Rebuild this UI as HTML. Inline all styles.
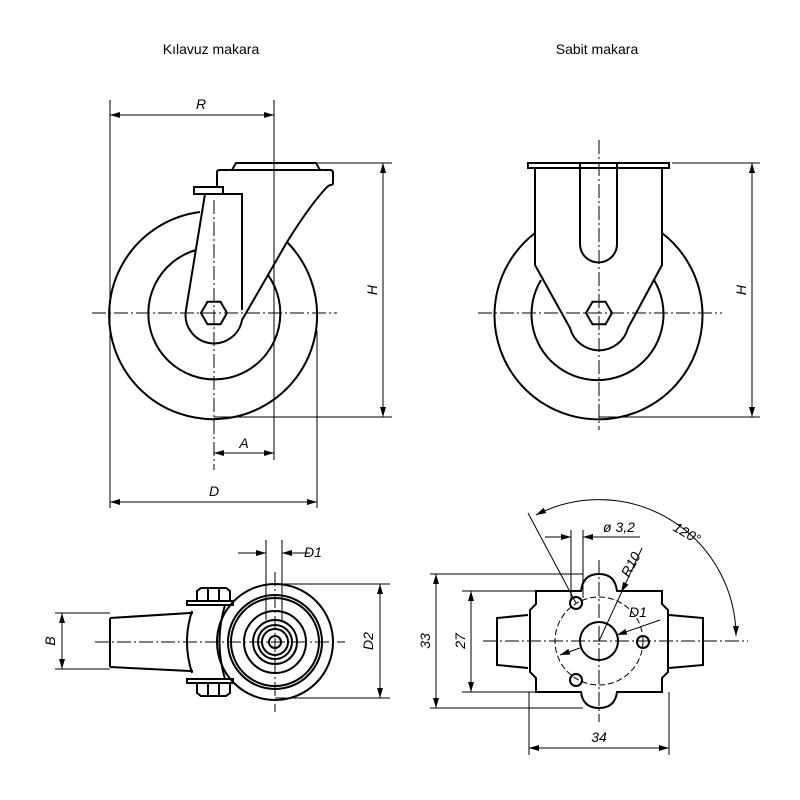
<!DOCTYPE html>
<html><head><meta charset="utf-8"><style>body{margin:0;background:#fff}svg{display:block}</style></head><body>
<svg width="800" height="800" viewBox="0 0 800 800" xmlns="http://www.w3.org/2000/svg" font-family="Liberation Sans, sans-serif">
<defs>
<marker id="a" viewBox="0 0 10 6" refX="10" refY="3" markerWidth="10" markerHeight="6" orient="auto-start-reverse" markerUnits="userSpaceOnUse"><path d="M0,0L10,3L0,6z" fill="#000"/></marker>
</defs>
<rect width="800" height="800" fill="#fff"/>
<text x="211" y="54" font-size="14" text-anchor="middle">Kılavuz makara</text>
<text x="597" y="54" font-size="14" text-anchor="middle">Sabit makara</text>

<g fill="none" stroke="#000">
<!-- ===== Top left ===== -->
<g stroke-width="2">
<path d="M200,212 A104,104 0 1 0 287,242"/>
<path d="M196,250 A66,66 0 1 0 268,275"/>
<path d="M232,170 L236,163 L316,163 L320,170"/>
<path d="M217,183 L217,172 Q217,170 220,170 L330,170 Q333,170 333,173 L333,183 Q333,185 330,185 L327,187"/>
<path d="M194,187 h29 v7 h-29z"/>
<path d="M205,194 L186,310 A28,28 0 0 0 242,320 L287,242 Q310,205 327,187"/>
<path d="M217,183 v4"/>
<path d="M223,194 h20 M242,194 v116"/>
<path d="M201,313 l6.5,-11.3 h13 l6.5,11.3 l-6.5,11.3 h-13z"/>
</g>
<g stroke-width="1">
<path d="M92,313 H337 M214,200 V470" stroke-dasharray="14 3 2 3"/>
<path d="M110,100 V508 M274,100 V460 M317,330 V508"/>
<line x1="110" y1="115" x2="274" y2="115" marker-start="url(#a)" marker-end="url(#a)"/>
<line x1="110" y1="502" x2="317" y2="502" marker-start="url(#a)" marker-end="url(#a)"/>
<line x1="214" y1="453" x2="274" y2="453" marker-start="url(#a)" marker-end="url(#a)"/>
<path d="M300,163 H392 M214,417 H392"/>
<line x1="383" y1="163" x2="383" y2="417" marker-start="url(#a)" marker-end="url(#a)"/>
</g>

<!-- ===== Top right ===== -->
<g stroke-width="2">
<path d="M535,233 A104,104 0 1 0 662,233"/>
<path d="M541,280 A66,66 0 1 0 654,280"/>
<path d="M528,163 H669 V168 H662 V265 L628,328 A30,30 0 0 1 570,328 L535,265 V168 H528z"/>
<path d="M535,168 H662"/>
<path d="M580,163 V244 A18.5,18.5 0 0 0 617,244 V163"/>
<path d="M586,313 l6.5,-11.3 h13 l6.5,11.3 l-6.5,11.3 h-13z"/>
</g>
<g stroke-width="1">
<path d="M478,313 H722 M599,140 V430" stroke-dasharray="14 3 2 3"/>
<path d="M672,163 H760 M599,417 H760"/>
<line x1="752" y1="163" x2="752" y2="417" marker-start="url(#a)" marker-end="url(#a)"/>
</g>

<!-- ===== Bottom left ===== -->
<g stroke-width="2">
<circle cx="275" cy="642" r="58"/>
<circle cx="275" cy="642" r="47"/>
<circle cx="275" cy="642" r="44"/>
<circle cx="275" cy="642" r="31"/>
<circle cx="275" cy="642" r="22"/>
<circle cx="275" cy="642" r="17"/>
<circle cx="275" cy="642" r="13"/>
<circle cx="275" cy="642" r="6"/>
<path d="M110,618 L190,613 M110,667 L190,671 M110,618 V667"/>
<path d="M192,611 Q182,642 192,673 M190,613 h3 M190,671 h3"/>
<path d="M225,605 Q214,642 225,679"/>
<path d="M187,601 h46 v4 h-46z M187,679 h46 v4 h-46z"/>
<path d="M197,601 v-10 l4,-3 h25 l4,3 v10 M208,588 v13 M219,588 v13"/>
<path d="M197,683 v10 l4,3 h25 l4,-3 v-10 M208,696 v-13 M219,696 v-13"/>
</g>
<g stroke-width="1">
<path d="M95,642 H345 M275,572 V712" stroke-dasharray="14 3 2 3"/>
<path d="M266,540 V620 M282,540 V620"/>
<line x1="238" y1="553" x2="266" y2="553" marker-end="url(#a)"/>
<line x1="310" y1="553" x2="282" y2="553" marker-end="url(#a)"/>
<path d="M282,584 H390 M275,698 H390 M55,613 H110 M55,669 H110"/>
<line x1="380" y1="584" x2="380" y2="698" marker-start="url(#a)" marker-end="url(#a)"/>
<line x1="62" y1="613" x2="62" y2="669" marker-start="url(#a)" marker-end="url(#a)"/>
</g>

<!-- ===== Bottom right ===== -->
<g stroke-width="2">
<path d="M536,591 H581 Q583,574 599,574 Q615,574 617,591 H662 V604 L668,610 V672 L662,678 V692 H617 Q615,708 599,708 Q583,708 581,692 H536 V678 L530,672 V610 L536,604z"/>
<path d="M528,615 L497,618 V665 L528,668 M669,615 L703,618 V665 L669,668"/>
<circle cx="599" cy="641" r="19"/>
<circle cx="576" cy="603" r="6"/>
<circle cx="576" cy="680" r="6"/>
<circle cx="643" cy="642" r="6"/>
</g>
<g stroke-width="1">
<circle cx="599" cy="641" r="44" stroke-dasharray="6 3"/>
<path d="M483,641 H748 M599,560 V722" stroke-dasharray="14 3 2 3"/>
<path d="M430,574 H583 M462,591 H540 M430,708 H583 M462,692 H540 M529,692 V755 M669,692 V755"/>
<line x1="436" y1="574" x2="436" y2="708" marker-start="url(#a)" marker-end="url(#a)"/>
<line x1="471" y1="591" x2="471" y2="692" marker-start="url(#a)" marker-end="url(#a)"/>
<line x1="529" y1="748" x2="669" y2="748" marker-start="url(#a)" marker-end="url(#a)"/>
<path d="M571,530 V600 M583,530 V598"/>
<line x1="545" y1="537" x2="571" y2="537" marker-end="url(#a)"/>
<line x1="640" y1="537" x2="583" y2="537" marker-end="url(#a)"/>
<path d="M528,513 L576,603"/>
<path d="M536,515 A137,137 0 0 1 736,636" marker-start="url(#a)" marker-end="url(#a)"/>
<line x1="642" y1="548" x2="599" y2="641"/>
<line x1="626" y1="583" x2="621" y2="592" marker-end="url(#a)"/>
<line x1="660" y1="620" x2="617" y2="635" marker-end="url(#a)"/>
<line x1="560" y1="655" x2="580" y2="648" marker-start="url(#a)"/>
</g>
</g>

<g font-size="14" font-style="italic" fill="#000">
<text x="201" y="109" text-anchor="middle">R</text>
<text x="214" y="496" text-anchor="middle">D</text>
<text x="244" y="448" text-anchor="middle">A</text>
<text transform="translate(377,290) rotate(-90)" text-anchor="middle">H</text>
<text transform="translate(746,290) rotate(-90)" text-anchor="middle">H</text>
<text x="304" y="557">D1</text>
<text transform="translate(373,641) rotate(-90)" text-anchor="middle">D2</text>
<text transform="translate(55,641) rotate(-90)" text-anchor="middle">B</text>
<text transform="translate(430,641) rotate(-90)" text-anchor="middle">33</text>
<text transform="translate(465,641) rotate(-90)" text-anchor="middle">27</text>
<text x="599" y="742" text-anchor="middle">34</text>
<text x="603" y="532">ø 3,2</text>
<text transform="translate(629,578) rotate(-62)">R10</text>
<text x="629" y="617">D1</text>
<text transform="translate(672,530) rotate(30)">120°</text>
</g>
</svg>
</body></html>
